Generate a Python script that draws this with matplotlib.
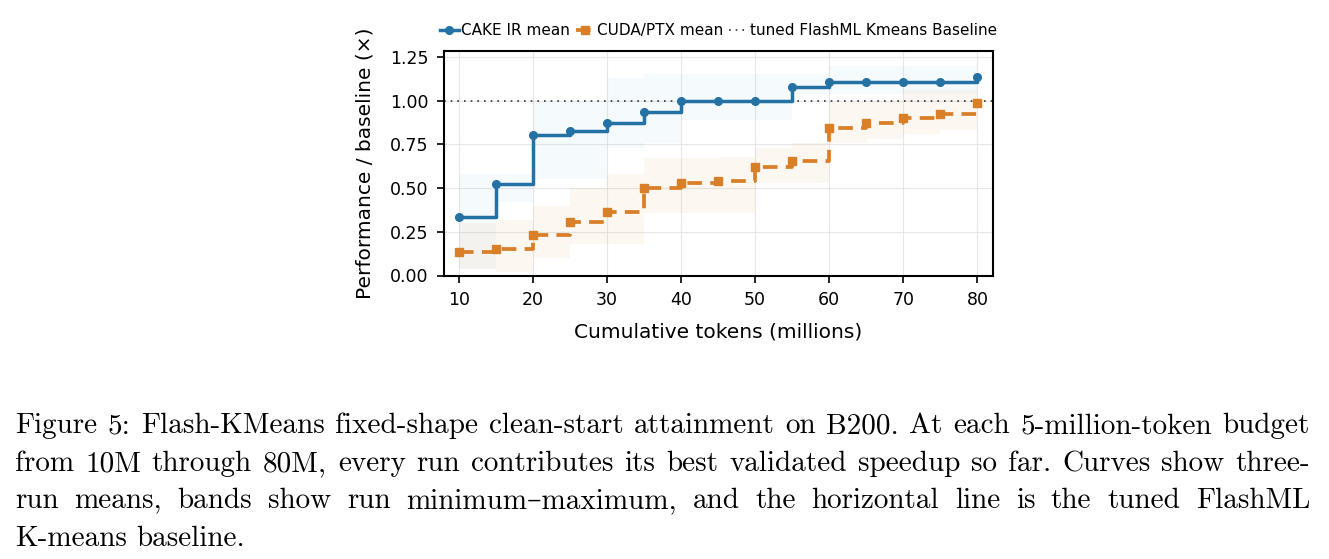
import numpy as np
import matplotlib.pyplot as plt

# token budgets (millions)
tokens = [10, 15, 20, 25, 30, 35, 40, 45, 50, 55, 60, 65, 70, 75, 80]

# three-run means
cake_mean = [0.336, 0.523, 0.803, 0.828, 0.874, 0.937, 0.996, 0.996, 0.996, 1.080, 1.103, 1.103, 1.103, 1.103, 1.134]
cuda_mean = [0.137, 0.149, 0.229, 0.303, 0.361, 0.502, 0.527, 0.542, 0.618, 0.656, 0.842, 0.870, 0.899, 0.924, 0.985]

# run min / max bands (rough, the bands are very faint)
cake_min = [0.04, 0.42, 0.55, 0.55, 0.73, 0.76, 0.89, 0.89, 0.89, 1.04, 1.04, 1.04, 1.04, 1.04, 1.04]
cake_max = [0.58, 0.58, 0.99, 0.99, 1.13, 1.15, 1.15, 1.15, 1.15, 1.15, 1.20, 1.20, 1.20, 1.20, 1.22]
cuda_min = [0.04, 0.02, 0.10, 0.18, 0.18, 0.36, 0.36, 0.36, 0.53, 0.53, 0.76, 0.78, 0.81, 0.83, 0.85]
cuda_max = [0.30, 0.32, 0.40, 0.50, 0.58, 0.67, 0.67, 0.68, 0.73, 0.76, 0.99, 1.00, 1.06, 1.06, 1.08]

baseline = 1.0

caption_lines = [
    "Figure 5: Flash-KMeans fixed-shape clean-start attainment on B200. At each 5-million-token budget",
    "from 10M through 80M, every run contributes its best validated speedup so far. Curves show three-",
    "run means, bands show run minimum\u2013maximum, and the horizontal line is the tuned FlashML",
    "K-means baseline.",
]

blue = "#2471a3"
orange = "#d97f28"

W, H = 1329, 559
fig = plt.figure(figsize=(W / 100, H / 100), dpi=100)
ax = fig.add_axes([444 / W, 1 - 275.5 / H, (993 - 444) / W, (275.5 - 51) / H])

ax.fill_between(tokens, cake_min, cake_max, step="post", color="#4aa3d8", alpha=0.05, linewidth=0)
ax.fill_between(tokens, cuda_min, cuda_max, step="post", color="#f0a050", alpha=0.08, linewidth=0)

ax.step(tokens, cake_mean, where="post", color=blue, lw=2.5, marker="o", ms=5.5,
        label="CAKE IR mean", zorder=3)
ax.step(tokens, cuda_mean, where="post", color=orange, lw=2.7, ls=(0, (3.9, 2.2)), marker="s", ms=5.5,
        label="CUDA/PTX mean", zorder=3)
ax.axhline(baseline, color="#333333", lw=1.2, ls=(0, (1, 3)), label="tuned FlashML Kmeans Baseline", zorder=2)

ax.set_xlim(8, 82.1)
ax.set_ylim(0, 1.283)
ax.set_xticks(np.arange(10, 81, 10))
ax.set_yticks([0, 0.25, 0.5, 0.75, 1.0, 1.25])
ax.set_yticklabels(["0.00", "0.25", "0.50", "0.75", "1.00", "1.25"])
ax.tick_params(labelsize=12.5, length=5, width=1.2, pad=6)
ax.grid(True, color="#dddddd", lw=0.8, alpha=0.7)
ax.set_axisbelow(True)
for s in ax.spines.values():
    s.set_linewidth(1.5)

ax.set_xlabel("Cumulative tokens (millions)", fontsize=14.5, labelpad=10)
ax.set_ylabel("Performance / baseline (\u00d7)", fontsize=14.5, labelpad=11)

ax.legend(loc="lower center", bbox_to_anchor=(0.5, 1.015), ncol=3, frameon=False, fontsize=11,
          handlelength=1.2, handletextpad=0.15, columnspacing=0.4, borderaxespad=0.2)

# caption, justified like the LaTeX one
renderer = fig.canvas.get_renderer()
cap_font = dict(fontsize=21, family=["cmr10", "DejaVu Serif"], va="baseline", ha="left")
x_left, x_right = 15, 1310
baselines = [433, 471, 508.5, 546]
for i, (line, yb) in enumerate(zip(caption_lines, baselines)):
    words = line.split(" ")
    texts = [fig.text(0, 1 - yb / H, w, **cap_font) for w in words]
    widths = [t.get_window_extent(renderer).width for t in texts]
    if i < len(caption_lines) - 1:
        gap = (x_right - x_left - sum(widths)) / (len(words) - 1)
    else:
        gap = 0.333 * 21 * 100 / 72
    x = x_left
    for t, w in zip(texts, widths):
        t.set_x(x / W)
        x += w + gap

fig.savefig("out.png", dpi=100)
